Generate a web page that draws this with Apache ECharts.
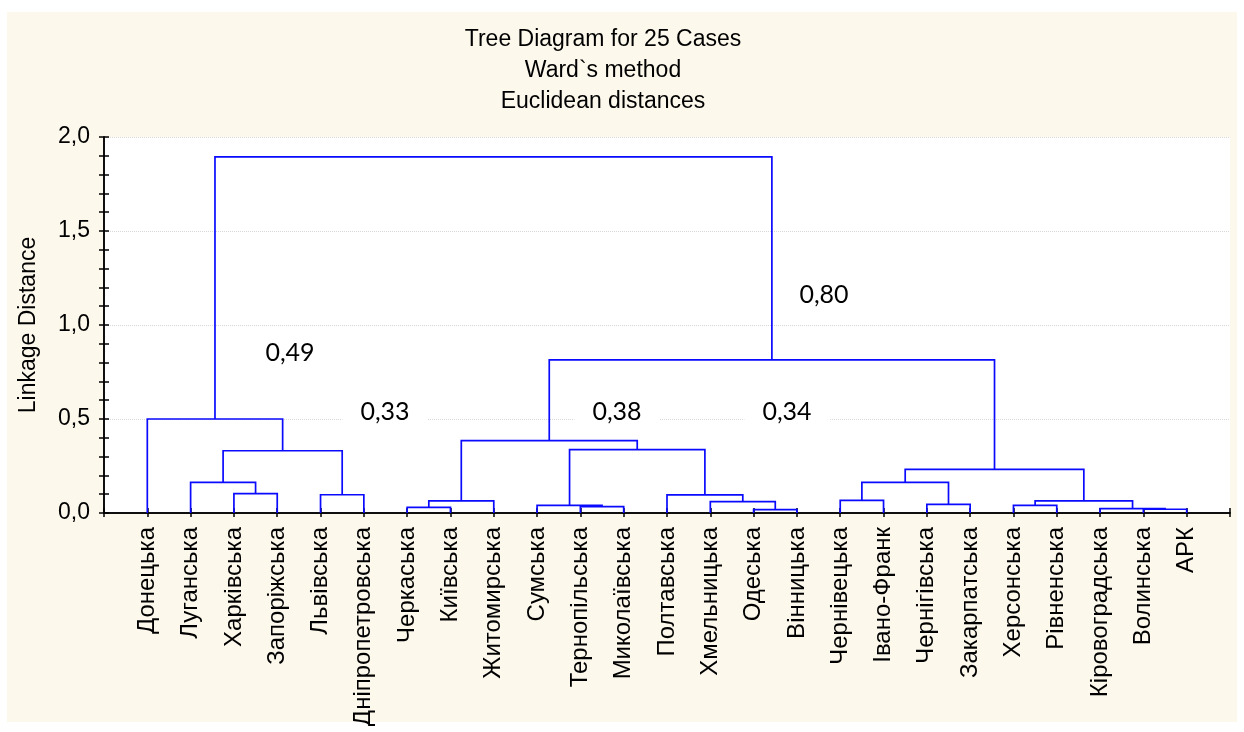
<!DOCTYPE html>
<html>
<head>
<meta charset="utf-8">
<script src="https://cdn.jsdelivr.net/npm/echarts@6/dist/echarts.min.js"></script>
<style>
html,body{margin:0;padding:0;background:#fff;}
#chart{width:1244px;height:732px;}
</style>
</head>
<body>
<div id="chart"></div>
<script>
// Leaf order as displayed on the horizontal axis
const leaves = ['Донецька','Луганська','Харківська','Запоріжська','Львівська','Дніпропетровська',
  'Черкаська','Київська','Житомирська','Сумська','Тернопільська','Миколаївська','Полтавська',
  'Хмельницька','Одеська','Вінницька','Чернівецька','Івано-Франк','Чернігівська','Закарпатська',
  'Херсонська','Рівненська','Кіровоградська','Волинська','АРК'];
// Merge steps: ids 0..24 are leaves, merge k creates cluster id 25+k
const mergeLeft   = [14, 23, 22, 6, 10, 9, 20, 18, 13, 28, 31, 16, 12, 4, 2, 1, 36, 41, 40, 30, 34, 0, 45, 46];
const mergeRight  = [15, 24, 26, 7, 11, 29, 21, 19, 25, 8, 27, 17, 33, 5, 3, 39, 32, 35, 38, 37, 44, 43, 42, 47];
const mergeHeight = [0.018, 0.020, 0.023, 0.030, 0.034, 0.041, 0.041, 0.046, 0.060, 0.064, 0.064, 0.067,
  0.096, 0.097, 0.103, 0.163, 0.163, 0.232, 0.331, 0.337, 0.385, 0.500, 0.814, 1.894];
const titleLines = ['Tree Diagram for 25 Cases', 'Ward`s method', 'Euclidean distances'];
const yAxisTitle = 'Linkage Distance';
const noteTexts = ['0,49', '0,33', '0,38', '0,34', '0,80'];

// build node positions: leaf i at x=i+1, cluster at midpoint of children
const nodeX = leaves.map((_, i) => i + 1);
const nodeH = leaves.map(() => 0);
const links = [];
for (let k = 0; k < mergeLeft.length; k++) {
  const a = mergeLeft[k], b = mergeRight[k], h = mergeHeight[k];
  links.push([nodeX[a], nodeH[a], nodeX[b], nodeH[b], h]);
  nodeX.push((nodeX[a] + nodeX[b]) / 2);
  nodeH.push(h);
}

const chart = echarts.init(document.getElementById('chart'), null, {renderer: 'canvas'});
const FONT = "'Liberation Sans', Arial, sans-serif";
const fmtY = v => v.toFixed(1).replace('.', ',');
const noteStyle = (t) => ({
  text: t, fill: '#000', font: "25px 'Lato', 'Open Sans', sans-serif",
  align: 'center', verticalAlign: 'middle',
  backgroundColor: '#fff', padding: [4, 18]
});

const option = {
  backgroundColor: '#ffffff',
  animation: false,
  grid: {left: 104, right: 14, top: 137, bottom: 219, show: true, backgroundColor: '#ffffff', borderWidth: 0},
  xAxis: [{
    type: 'value', min: 0, max: leaves.length + 1, interval: 1, position: 'bottom',
    axisLine: {show: true, lineStyle: {color: '#000', width: 1.5}},
    axisTick: {show: true, inside: true, length: 5, lineStyle: {color: '#000', width: 1.5}},
    splitLine: {show: false},
    axisLabel: {
      rotate: 90, margin: 14, fontSize: 24, color: '#000', fontFamily: FONT,
      formatter: v => (v >= 1 && v <= leaves.length) ? leaves[Math.round(v) - 1] : ''
    }
  }, {
    type: 'value', min: 0, max: leaves.length + 1, interval: 1, position: 'top',
    axisLine: {show: true, lineStyle: {color: '#000', width: 1.5}},
    axisTick: {show: true, inside: true, length: 4, lineStyle: {color: '#000', width: 1.5}},
    axisLabel: {show: false}, splitLine: {show: false}
  }],
  yAxis: [{
    type: 'value', min: 0, max: 2, interval: 0.5, position: 'left',
    name: yAxisTitle, nameLocation: 'middle', nameGap: 64, nameRotate: 90,
    nameTextStyle: {fontSize: 23, color: '#000', fontFamily: FONT},
    axisLine: {show: true, lineStyle: {color: '#000', width: 1.5}},
    axisTick: {show: true, inside: true, length: 5, lineStyle: {color: '#000', width: 1.5}},
    minorTick: {show: true, splitNumber: 5, length: 5, lineStyle: {color: '#000', width: 1.5}},
    axisLabel: {formatter: fmtY, margin: 14, fontSize: 23, color: '#000', fontFamily: FONT},
    splitLine: {show: true, lineStyle: {color: '#d8d8d8', type: 'dotted', width: 1}}
  }, {
    type: 'value', min: 0, max: 2, interval: 0.5, position: 'right',
    axisLine: {show: true, lineStyle: {color: '#000', width: 1.5}},
    axisTick: {show: true, inside: true, length: 5, lineStyle: {color: '#000', width: 1.5}},
    minorTick: {show: true, splitNumber: 5, length: 5, lineStyle: {color: '#000', width: 1.5}},
    axisLabel: {show: false}, splitLine: {show: false}
  }],
  series: [{
    type: 'custom',
    xAxisIndex: 0, yAxisIndex: 0,
    data: links,
    encode: {x: [0, 2], y: [1, 3, 4]},
    z: 3,
    renderItem: function (params, api) {
      const p1 = api.coord([api.value(0), api.value(1)]);
      const p2 = api.coord([api.value(0), api.value(4)]);
      const p3 = api.coord([api.value(2), api.value(4)]);
      const p4 = api.coord([api.value(2), api.value(3)]);
      return {
        type: 'polyline',
        shape: {points: [p1, p2, p3, p4]},
        style: {stroke: '#0a0aff', fill: null, lineWidth: 1.7}
      };
    }
  }],
  graphic: [
    {type: 'rect', z: -100, silent: true, shape: {x: 7, y: 12, width: 1230, height: 710}, style: {fill: '#fdf8ec'}},
    {type: 'text', z: 100, x: 603, y: 40, style: {text: titleLines[0], font: "23px " + FONT, fill: '#000', align: 'center', verticalAlign: 'middle'}},
    {type: 'text', z: 100, x: 603, y: 71, style: {text: titleLines[1], font: "23px " + FONT, fill: '#000', align: 'center', verticalAlign: 'middle'}},
    {type: 'text', z: 100, x: 603, y: 102, style: {text: titleLines[2], font: "23px " + FONT, fill: '#000', align: 'center', verticalAlign: 'middle'}},
    {type: 'text', z: 100, x: 290, y: 353, style: noteStyle(noteTexts[0])},
    {type: 'text', z: 100, x: 385, y: 412, style: noteStyle(noteTexts[1])},
    {type: 'text', z: 100, x: 617, y: 412, style: noteStyle(noteTexts[2])},
    {type: 'text', z: 100, x: 787, y: 412, style: noteStyle(noteTexts[3])},
    {type: 'text', z: 100, x: 824, y: 295, style: noteStyle(noteTexts[4])}
  ]
};
chart.setOption(option);
</script>
</body>
</html>
